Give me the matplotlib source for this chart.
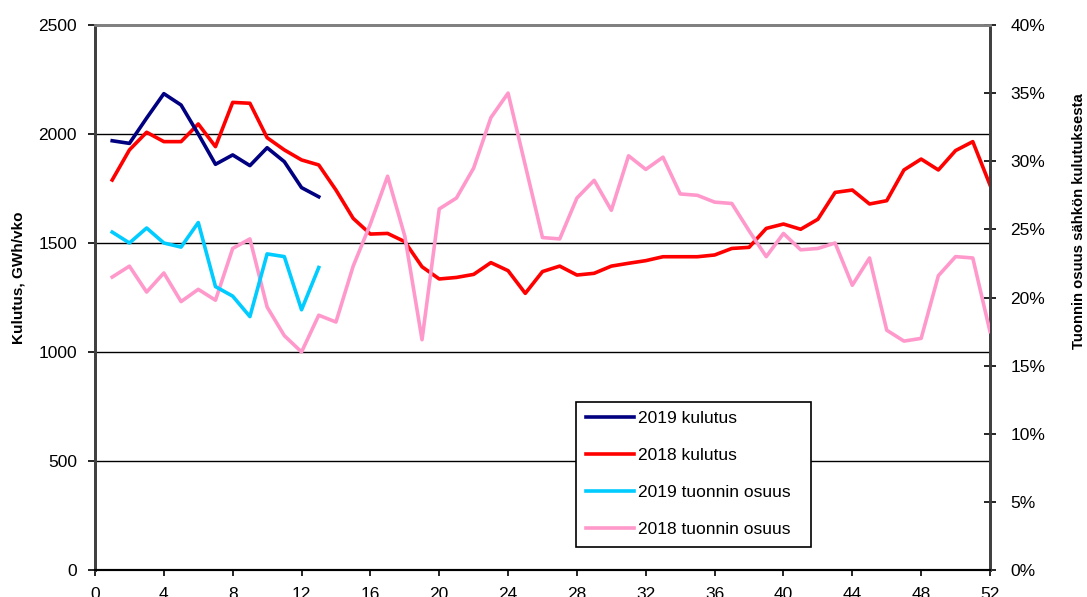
import numpy as np
import matplotlib
matplotlib.use("Agg")
from matplotlib import pyplot as plt
from matplotlib.ticker import FuncFormatter

plt.rcParams['font.family'] = ['Liberation Sans', 'DejaVu Sans']

# weekly data
weeks_2019 = list(range(1, 14))
weeks_2018 = list(range(1, 53))

kulutus_2019 = [1969, 1957, 2073, 2185, 2133, 2000, 1861, 1904, 1855, 1937, 1873, 1754, 1712]
kulutus_2018 = [1789, 1927, 2008, 1965, 1965, 2046, 1942, 2145, 2141, 1983, 1927, 1881, 1858,
                1743, 1613, 1541, 1544, 1506, 1391, 1335, 1342, 1356, 1410, 1373, 1269, 1369,
                1394, 1353, 1361, 1394, 1407, 1419, 1437, 1437, 1437, 1445, 1475, 1480, 1567,
                1587, 1563, 1609, 1732, 1743, 1679, 1694, 1835, 1885, 1835, 1924, 1965, 1766]

# import share, %
tuonti_2019 = [24.8, 24.0, 25.1, 24.0, 23.7, 25.5, 20.8, 20.1, 18.6, 23.2, 23.0, 19.1, 22.2]
tuonti_2018 = [21.5, 22.3, 20.4, 21.8, 19.7, 20.6, 19.8, 23.6, 24.3, 19.3, 17.2, 16.0, 18.7,
               18.2, 22.3, 25.4, 28.9, 24.5, 16.9, 26.5, 27.3, 29.5, 33.2, 35.0, 29.7, 24.4,
               24.3, 27.3, 28.6, 26.4, 30.4, 29.4, 30.3, 27.6, 27.5, 27.0, 26.9, 24.9, 23.0,
               24.7, 23.5, 23.6, 24.0, 20.9, 22.9, 17.6, 16.8, 17.0, 21.6, 23.0, 22.9, 17.5]

fig = plt.figure(figsize=(10.87, 5.97), dpi=100)
ax = fig.add_axes([95/1087, 1-570/597, 895/1087, 545/597])
ax2 = ax.twinx()

lw = 2.6
l_red, = ax.plot(weeks_2018, kulutus_2018, color='#FF0000', lw=lw, label='2018 kulutus', zorder=3)
l_navy, = ax.plot(weeks_2019, kulutus_2019, color='#000080', lw=lw, label='2019 kulutus', zorder=4)
l_pink, = ax2.plot(weeks_2018, [v/100 for v in tuonti_2018], color='#FF99CC', lw=lw,
                   label='2018 tuonnin osuus', zorder=3)
l_cyan, = ax2.plot(weeks_2019, [v/100 for v in tuonti_2019], color='#00CCFF', lw=lw,
                   label='2019 tuonnin osuus', zorder=4)

ax.set_xlim(0, 52)
ax.set_ylim(0, 2500)
ax.set_xticks(range(0, 53, 4))
ax.set_yticks(range(0, 2501, 500))
for yv in [500, 1000, 1500, 2000]:
    ax.axhline(yv, color='black', lw=1, zorder=1)

ax2.set_ylim(0, 0.4)
ax2.set_yticks(np.arange(0, 0.401, 0.05))
ax2.yaxis.set_major_formatter(FuncFormatter(lambda v, p: "%d%%" % round(v*100)))

ax.tick_params(axis='y', direction='out', length=5, width=1.2, pad=8, labelsize=12.5)
ax.tick_params(axis='x', direction='out', length=4, width=1.2, pad=8, labelsize=12.5)
ax2.tick_params(axis='y', direction='inout', length=9, width=1.2, pad=10, labelsize=12.5)

for a in (ax, ax2):
    a.spines['left'].set_color('#404040')
    a.spines['left'].set_linewidth(2)
    a.spines['right'].set_color('#404040')
    a.spines['right'].set_linewidth(2)
    a.spines['top'].set_color('#808080')
    a.spines['top'].set_linewidth(2)
    a.spines['bottom'].set_color('black')
    a.spines['bottom'].set_linewidth(1.5)

ax.set_ylabel('Kulutus, GWh/vko', fontsize=11, fontweight='bold')
ax.yaxis.set_label_coords(-0.078, 0.536)
ax2.set_ylabel('Tuonnin osuus sähkön kulutuksesta', fontsize=10.7, fontweight='bold')
ax2.yaxis.set_label_coords(1.0916, 0.64)

leg = ax2.legend(handles=[l_navy, l_red, l_cyan, l_pink], loc='upper left',
                 bbox_to_anchor=(0.5374, 0.0418, 0.2622, 0.267), mode='expand',
                 borderaxespad=0, fancybox=False, framealpha=1, edgecolor='black',
                 fontsize=12.5, handlelength=2.8, handletextpad=0.2, labelspacing=1.25,
                 borderpad=0.55)
leg.get_frame().set_linewidth(1.2)

fig.savefig('out.png', dpi=100)
